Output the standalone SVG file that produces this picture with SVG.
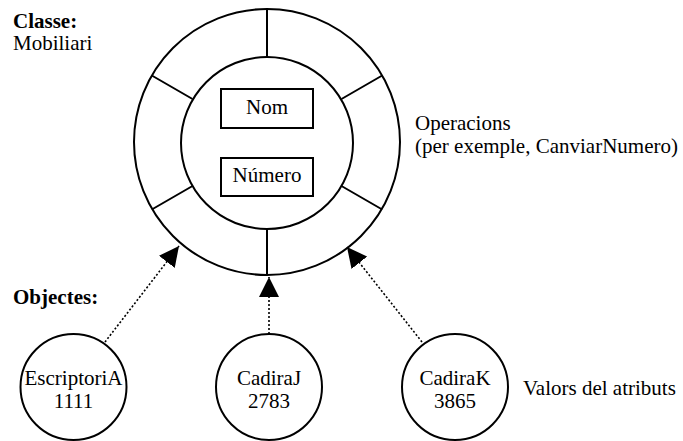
<svg xmlns="http://www.w3.org/2000/svg" width="683" height="441" viewBox="0 0 683 441">
  <style>
    text { font-family: "Liberation Serif", Tinos, "Times New Roman", "DejaVu Serif", serif; font-size: 21px; fill: #000; }
    .bold { font-weight: bold; }
    .mid { text-anchor: middle; }
    .ln { fill: none; stroke: #000; stroke-width: 2; }
    .box { fill: #fff; stroke: #000; stroke-width: 2; }
    .dot { fill: none; stroke: #000; stroke-width: 1.6; stroke-dasharray: 2 2; }
  </style>
  <defs>
    <marker id="head" viewBox="0 0 20 20" refX="20" refY="10" markerWidth="20" markerHeight="20" markerUnits="userSpaceOnUse" orient="auto">
      <path d="M0,0 L20,10 L0,20 z" fill="#000"/>
    </marker>
  </defs>
  <rect width="683" height="441" fill="#fff"/>

  <!-- labels -->
  <text class="bold" x="13" y="28">Classe:</text>
  <text x="13" y="50">Mobiliari</text>
  <text class="bold" x="13" y="304">Objectes:</text>
  <text x="415" y="130">Operacions</text>
  <text x="415" y="153">(per exemple, CanviarNumero)</text>
  <text x="523" y="395">Valors del atributs</text>

  <!-- class: outer ring of operations, inner core of attributes -->
  <g id="classe">
    <circle class="ln" cx="267" cy="142" r="133"/>
    <circle class="ln" cx="267" cy="143" r="86"/>
    <path class="ln" d="M267,9 V57 M267,229 V275 M151.8,75.5 L192.5,99 M382.2,75.5 L341.5,99 M151.8,209.5 L192.5,186 M382.2,209.5 L341.5,186"/>
    <rect class="box" x="221" y="89" width="92" height="39"/>
    <text class="mid" x="267" y="114">Nom</text>
    <rect class="box" x="221" y="158" width="92" height="38"/>
    <text class="mid" x="267" y="182">Número</text>
  </g>

  <!-- objects -->
  <g id="escriptoriA">
    <circle class="ln" cx="73.5" cy="387" r="53"/>
    <text class="mid" x="73.5" y="385">EscriptoriA</text>
    <text class="mid" x="73.5" y="408">1111</text>
  </g>
  <g id="cadiraJ">
    <circle class="ln" cx="269" cy="387" r="53"/>
    <text class="mid" x="269" y="385">CadiraJ</text>
    <text class="mid" x="269" y="408">2783</text>
  </g>
  <g id="cadiraK">
    <circle class="ln" cx="455" cy="387" r="53"/>
    <text class="mid" x="455" y="385">CadiraK</text>
    <text class="mid" x="455" y="408">3865</text>
  </g>

  <!-- instance-of connectors -->
  <g id="connectors">
    <path class="dot" d="M105,342 L179,246" marker-end="url(#head)"/>
    <path class="dot" d="M269,334 L269,277" marker-end="url(#head)"/>
    <path class="dot" d="M422,342 L347,247" marker-end="url(#head)"/>
  </g>
</svg>
